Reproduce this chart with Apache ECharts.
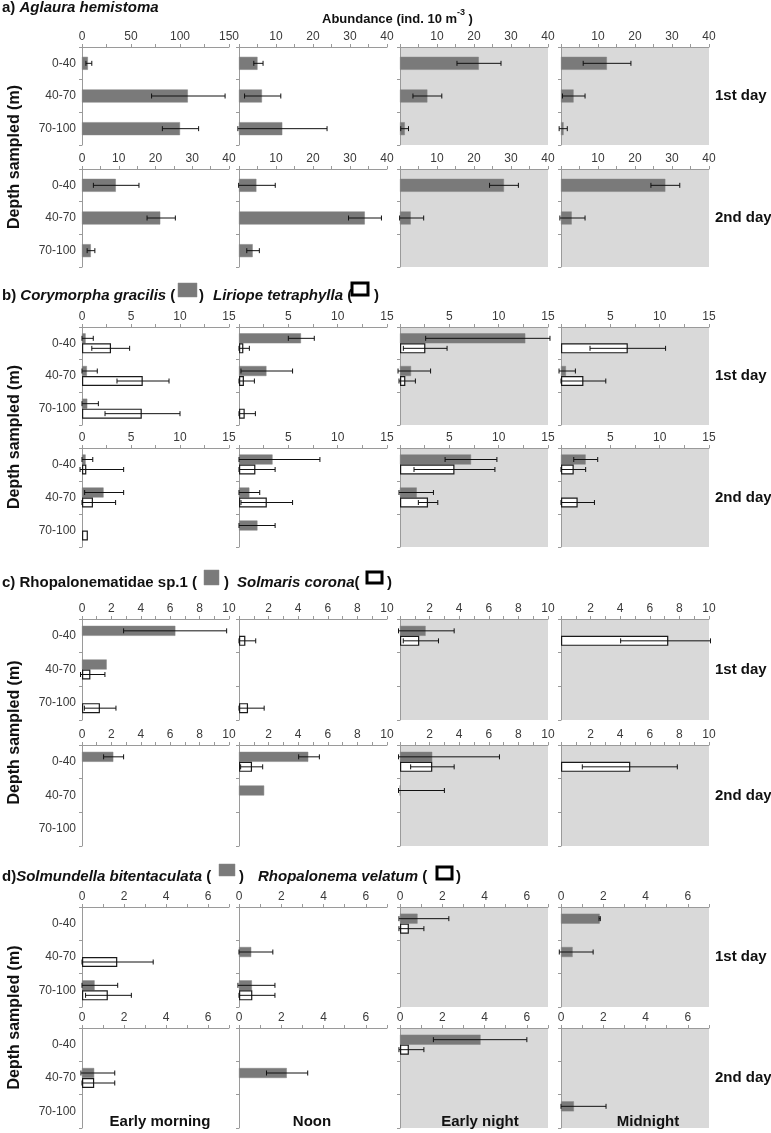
<!DOCTYPE html>
<html>
<head>
<meta charset="utf-8">
<script src="https://cdn.jsdelivr.net/npm/echarts@6/dist/echarts.min.js"></script>
<style>html,body{margin:0;padding:0;background:#fff}#chart{width:771px;height:1133px}</style>
</head>
<body>
<div id="chart"></div>
<script>
// ---------- categories ----------
const depths = ['0-40', '40-70', '70-100'];
const times = ['Early morning', 'Noon', 'Early night', 'Midnight'];
const days = ['1st day', '2nd day'];

// ---------- data: per time of day, per depth: [mean, errLow, errHigh] ----------
// a) Aglaura hemistoma
const a1_gray = [
  [[6, 4, 10], [108, 71, 146], [100, 82, 119]],
  [[5.0, 4, 6.5], [6.2, 1.5, 11.3], [11.7, -0.3, 23.8]],
  [[21.3, 15.4, 27.3], [7.4, 3.5, 11.3], [1.3, 0.2, 2.3]],
  [[12.4, 6.0, 18.9], [3.4, 0.4, 6.5], [0.7, -0.5, 1.7]]
];
const a2_gray = [
  [[9.2, 3.1, 15.5], [21.3, 17.7, 25.4], [2.4, 1.4, 3.5]],
  [[4.7, -0.1, 9.8], [34, 29.6, 38.5], [3.7, 2.1, 5.5]],
  [[28.1, 24.2, 32], [2.9, -0.1, 6.4], null],
  [[28.2, 24.3, 32.1], [2.9, -0.3, 6.5], null]
];
// b) Corymorpha gracilis (gray) / Liriope tetraphylla (white)
const b1_gray = [
  [[0.37, 0, 1.15], [0.5, 0, 1.56], [0.54, 0, 1.67]],
  [[6.28, 5.0, 7.63], [2.78, 0.2, 5.43], null],
  [[12.7, 2.6, 15.2], [1.12, -0.2, 3.1], null],
  [null, [0.5, -0.2, 1.46], null]
];
const b1_white = [
  [[2.96, 1.0, 4.86], [6.2, 3.57, 8.88], [6.1, 2.35, 10.0]],
  [[0.44, 0, 1.05], [0.5, 0, 1.56], [0.58, 0, 1.66]],
  [[2.57, 0.34, 4.77], [0.54, -0.1, 1.56], null],
  [[6.77, 2.94, 10.6], [2.27, 0, 4.54], null]
];
const b2_gray = [
  [[0.37, 0, 1.1], [2.2, 0.27, 4.25], null],
  [[3.4, 0, 8.2], [1.05, 0, 2.1], [1.87, 0, 3.66]],
  [[7.2, 4.57, 9.82], [1.7, -0.1, 3.39], null],
  [[2.5, 1.29, 3.72], null, null]
];
const b2_white = [
  [[0.44, -0.2, 4.25], [1.12, 0, 3.43], [0.6, null, null]],
  [[1.66, 0, 3.66], [2.82, 0.2, 5.43], null],
  [[5.52, 1.42, 9.62], [2.84, 1.86, 3.83], null],
  [[1.29, 0, 2.5], [1.69, 0, 3.39], null]
];
// c) Rhopalonematidae sp.1 (gray) / Solmaris corona (white)
const c1_gray = [
  [[6.35, 2.83, 9.84], [1.68, null, null], null],
  [null, null, null],
  [[1.73, -0.1, 3.66], null, null],
  [null, null, null]
];
const c1_white = [
  [null, [0.57, -0.1, 1.56], [1.22, 0.16, 2.31]],
  [[0.43, 0, 1.13], null, [0.61, 0, 1.7]],
  [[1.3, 0.22, 2.6], null, null],
  [[7.25, 4.03, 10.1], null, null]
];
const c2_gray = [
  [[2.13, 1.47, 2.83], null, null],
  [[4.68, 4.03, 5.43], [1.7, null, null], null],
  [[2.18, -0.1, 6.72], [0, -0.1, 3.0], null],
  [null, null, null]
];
const c2_white = [
  [null, null, null],
  [[0.88, 0.11, 1.6], null, null],
  [[2.18, 0.72, 3.66], null, null],
  [[4.68, 1.44, 7.86], null, null]
];
// d) Solmundella bitentaculata (gray) / Rhopalonema velatum (white)
const d1_gray = [
  [null, null, [0.6, 0, 1.7]],
  [null, [0.58, 0, 1.6], [0.61, -0.05, 1.7]],
  [[0.83, -0.05, 2.31], null, null],
  [[1.83, 1.8, 1.86], [0.55, -0.08, 1.52], null]
];
const d1_white = [
  [null, [1.68, 0, 3.39], [1.23, 0.17, 2.35]],
  [null, null, [0.63, 0, 1.7]],
  [[0.42, -0.05, 1.13], null, null],
  [null, null, null]
];
const d2_gray = [
  [null, [0.58, -0.05, 1.56], null],
  [null, [2.26, 1.3, 3.25], null],
  [[3.81, 1.58, 6.0], null, null],
  [null, null, [0.61, 0, 2.13]]
];
const d2_white = [
  [null, [0.58, 0, 1.56], null],
  [null, null, null],
  [[0.42, -0.05, 1.13], null, null],
  [null, null, null]
];

// ---------- axis scales (max, label step, tick step) per row/column ----------
const a_max = [[150, 40, 40, 40], [40, 40, 40, 40]];
const a_label = [[50, 10, 10, 10], [10, 10, 10, 10]];
const a_tick = [[25, 5, 5, 5], [5, 5, 5, 5]];
const b_max = 15, b_label = 5, b_tick = 2.5;
const c_max = 10, c_label = 2, c_tick = 1;
const d_max = 7, d_label = 2, d_tick = 1;

// ---------- layout ----------
const FONT = 'Liberation Sans, Arial, sans-serif';
const colLeft = [82, 239, 400, 561];
const colWidth = [147, 148, 148, 148];
const rowTop = [[47, 169], [327, 448], [619, 745], [907, 1028]];
const rowHeight = [[98, 98], [98, 99], [101, 101], [100, 100]];

const sections = [
  { gray: [a1_gray, a2_gray], white: null,
    max: (r, c) => a_max[r][c], lstep: (r, c) => a_label[r][c], tstep: (r, c) => a_tick[r][c], zero: false },
  { gray: [b1_gray, b2_gray], white: [b1_white, b2_white],
    max: () => b_max, lstep: () => b_label, tstep: () => b_tick, zero: false },
  { gray: [c1_gray, c2_gray], white: [c1_white, c2_white],
    max: () => c_max, lstep: () => c_label, tstep: () => c_tick, zero: false },
  { gray: [d1_gray, d2_gray], white: [d1_white, d2_white],
    max: () => d_max, lstep: () => d_label, tstep: () => d_tick, zero: true }
];

function makeErr(offset) {
  return function (params, api) {
    const lo = api.value(0), hi = api.value(1), ci = api.value(2);
    const p1 = api.coord([lo, ci]);
    const p2 = api.coord([hi, ci]);
    const y = p1[1] + offset;
    const cap = 2.5;
    const st = { stroke: '#111', lineWidth: 1 };
    return {
      type: 'group',
      children: [
        { type: 'line', shape: { x1: p1[0], y1: y, x2: p2[0], y2: y }, style: st },
        { type: 'line', shape: { x1: p1[0], y1: y - cap, x2: p1[0], y2: y + cap }, style: st },
        { type: 'line', shape: { x1: p2[0], y1: y - cap, x2: p2[0], y2: y + cap }, style: st }
      ]
    };
  };
}

const grids = [], xAxes = [], yAxes = [], series = [];
const axisColor = '#9a9a9a';

sections.forEach((sec, s) => {
  for (let r = 0; r < 2; r++) {
    for (let c = 0; c < 4; c++) {
      const gi = grids.length;
      const night = c >= 2;
      grids.push({
        left: colLeft[c], top: rowTop[s][r], width: colWidth[c], height: rowHeight[s][r],
        show: night, backgroundColor: night ? '#d9d9d9' : 'transparent', borderWidth: 0,
        containLabel: false, outerBoundsMode: 'none'
      });
      const lstep = sec.lstep(r, c);
      const showZero = c === 0 || sec.zero;
      xAxes.push({
        gridIndex: gi, type: 'value', position: 'top', min: 0, max: sec.max(r, c), interval: sec.tstep(r, c),
        axisLine: { show: true, lineStyle: { color: axisColor, width: 1 } },
        axisTick: { show: true, length: 3, inside: false, lineStyle: { color: axisColor } },
        splitLine: { show: false },
        axisLabel: {
          show: true, showMinLabel: true, showMaxLabel: true, hideOverlap: false,
          color: '#3a3a3a', fontSize: 12, fontFamily: FONT, margin: 4,
          formatter: v => {
            const k = v / lstep;
            if (Math.abs(k - Math.round(k)) > 1e-6) return '';
            if (v === 0 && !showZero) return '';
            return String(v);
          }
        }
      });
      yAxes.push({
        gridIndex: gi, type: 'category', data: depths, inverse: true,
        axisLine: { show: true, lineStyle: { color: axisColor, width: 1 } },
        axisTick: { show: true, length: 3, lineStyle: { color: axisColor } },
        axisLabel: { show: c === 0, color: '#3a3a3a', fontSize: 12, fontFamily: FONT, margin: 6 },
        splitLine: { show: false }
      });
      const two = sec.white !== null;
      const parts = [{ data: sec.gray[r][c], white: false, off: two ? -5 : 0 }];
      if (two) parts.push({ data: sec.white[r][c], white: true, off: 5 });
      parts.forEach(p => {
        series.push({
          type: 'bar', xAxisIndex: gi, yAxisIndex: gi,
          barWidth: two ? 10 : 13, barGap: '0%',
          data: p.data.map(d => (d ? d[0] : '-')),
          itemStyle: p.white
            ? { color: '#ffffff', borderColor: '#1a1a1a', borderWidth: 1.2 }
            : { color: '#7a7a7a', borderColor: '#858585', borderWidth: 0.5 },
          silent: true, z: 2
        });
        const err = p.data.map((d, i) => (d && d[1] != null ? [d[1], d[2], i] : null)).filter(Boolean);
        if (err.length) {
          series.push({
            type: 'custom', xAxisIndex: gi, yAxisIndex: gi, clip: false,
            renderItem: makeErr(p.off), data: err, encode: { x: [0, 1], y: 2 },
            silent: true, z: 5
          });
        }
      });
    }
  }
});

// ---------- text graphics ----------
const rich = {
  n: { fontWeight: 'bold', fontSize: 15, fontFamily: FONT, fill: '#111' },
  i: { fontWeight: 'bold', fontStyle: 'italic', fontSize: 15, fontFamily: FONT, fill: '#111' }
};
function rtext(x, y, text) {
  return { type: 'text', x, y, style: { text, rich, fill: '#111', verticalAlign: 'middle', align: 'left',
    fontSize: 15, fontWeight: 'bold', fontFamily: FONT } };
}
function sq(x, y, w, h, white) {
  return { type: 'rect', shape: { x, y, width: w, height: h },
    style: white ? { fill: '#fff', stroke: '#000', lineWidth: 3 } : { fill: '#7a7a7a', stroke: '#8a8a8a', lineWidth: 0.5 } };
}
function btext(x, y, text, size, align) {
  return { type: 'text', x, y, style: { text, fill: '#111', font: 'bold ' + size + 'px ' + FONT,
    align: align || 'left', verticalAlign: 'middle' } };
}

const graphics = [
  rtext(2, 8, '{n|a) }{i|Aglaura hemistoma}'),
  btext(322, 19, 'Abundance (ind. 10 m', 13),
  btext(457, 13, '-3', 9),
  btext(465, 19, ' )', 13),

  rtext(2, 296, '{n|b) }{i|Corymorpha gracilis}{n| (}'),
  sq(178, 283, 19, 14, false),
  rtext(199, 296, '{n|)}'),
  rtext(213, 296, '{i|Liriope tetraphylla}{n| (}'),
  sq(352, 283, 16, 12, true),
  rtext(374, 296, '{n|)}'),

  rtext(2, 583, '{n|c) Rhopalonematidae sp.1 (}'),
  sq(204, 570, 15, 15, false),
  rtext(224, 583, '{n|)}'),
  rtext(237, 583, '{i|Solmaris corona}{n|(}'),
  sq(367, 572, 15, 11, true),
  rtext(387, 583, '{n|)}'),

  rtext(2, 877, '{n|d)}{i|Solmundella bitentaculata}{n| (}'),
  sq(219, 864, 16, 12, false),
  rtext(239, 877, '{n|)}'),
  rtext(258, 877, '{i|Rhopalonema velatum}{n| (}'),
  sq(437, 867, 15, 12, true),
  rtext(456, 877, '{n|)}')
];

rowTop.forEach((tops, s) => {
  const y0 = tops[0], y1 = tops[1] + rowHeight[s][1];
  graphics.push({
    type: 'text', x: 15, y: (y0 + y1) / 2, rotation: Math.PI / 2,
    style: { text: 'Depth sampled (m)', fill: '#111', font: 'bold 16px ' + FONT, align: 'center', verticalAlign: 'middle' }
  });
  tops.forEach((t, r) => {
    graphics.push(btext(715, t + rowHeight[s][r] / 2, days[r], 15));
  });
});

const timeLabelX = [160, 312, 480, 648];
times.forEach((t, c) => graphics.push(btext(timeLabelX[c], 1122, t, 15, 'center')));

const chart = echarts.init(document.getElementById('chart'), null, { renderer: 'canvas' });
chart.setOption({
  backgroundColor: '#ffffff',
  animation: false,
  grid: grids,
  xAxis: xAxes,
  yAxis: yAxes,
  series: series,
  graphic: { elements: graphics }
});
</script>
</body>
</html>
